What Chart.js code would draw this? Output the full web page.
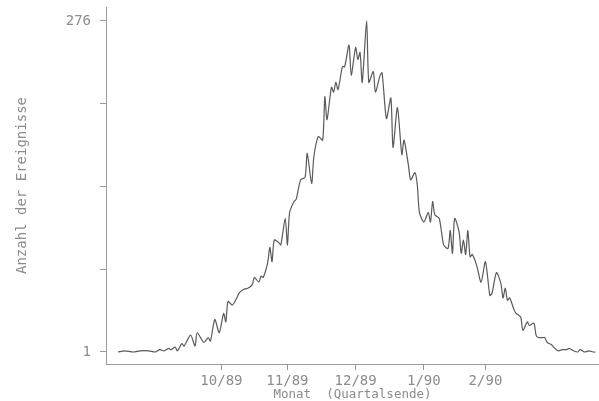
<!DOCTYPE html>
<html>
<head>
<meta charset="utf-8">
<script src="https://cdn.jsdelivr.net/npm/chart.js@4.4.1/dist/chart.umd.min.js"></script>
<style>
  html, body { margin: 0; padding: 0; background: #ffffff; }
  #wrap { width: 599px; height: 401px; }
</style>
</head>
<body>
<div id="wrap"><canvas id="c" width="599" height="401"></canvas></div>
<script>
const days = [0,3,7,10,14,17,19,21,22,23,24,26,27,29,30,33,35,36,39,41,42,44,46,48,49,50,52,54,55,57,59,61,62,64,65,66,68,69,70,71,73,74,76,77,78,80,81,83,85,86,88,89,91,93,94,95,97,98,99,100,102,103,105,106,108,109,110,111,113,114,116,117,119,120,122,124,125,127,129,130,132,133,135,136,137,139,141,142,143,144,146,148,150,151,152,153,155,156,157,158,159,160,161,163,165,167,169,170,172,174,175,176,177,178,180,181,183,184,186,187,189,190,191,193,194,195,197,198,200,202,204,205,207,209,210,212,214,216,217];
const counts = [1,2,1,2,2,1,3,2,3,4,3,5,2,8,6,15,6,17,9,13,10,28,17,33,26,43,40,46,50,53,54,57,63,59,64,63,75,88,76,94,92,90,112,90,117,126,128,144,146,166,141,163,180,177,213,194,221,217,225,219,238,238,256,231,254,244,250,225,276,225,234,217,230,233,195,212,171,204,165,177,156,144,150,140,117,109,117,109,126,115,112,90,87,102,83,112,101,83,94,82,102,80,82,73,59,76,48,50,67,58,46,54,44,46,36,33,30,19,26,23,25,15,13,13,13,9,7,5,2,3,3,4,2,1,3,1,2,1,1];

// Axis ticks
const yTickValues = [1, 69.75, 138.5, 207.25, 276];
const yTickLabels = ['1', '', '', '', '276'];
const xTickDays = [47, 77, 108, 139, 167];
const xTickLabels = ['10/89', '11/89', '12/89', '1/90', '2/90'];

const points = days.map((d, i) => ({ x: d, y: counts[i] }));
const ink = '#8c8c8c';
const fontFam = "'DejaVu Sans Mono', 'Liberation Mono', monospace";

new Chart(document.getElementById('c'), {
  type: 'line',
  data: {
    datasets: [{
      data: points,
      borderColor: '#5a5a5a',
      borderWidth: 1.2,
      pointRadius: 0,
      tension: 0.25,
      fill: false
    }]
  },
  options: {
    responsive: false,
    animation: false,
    devicePixelRatio: 1,
    layout: { padding: { top: 7, right: 0, bottom: 0, left: 0 }, autoPadding: false },
    plugins: { legend: { display: false }, tooltip: { enabled: false } },
    scales: {
      x: {
        type: 'linear',
        min: -5.45,
        max: 218.6,
        afterFit: (s) => { s.height = 37; s.paddingLeft = 0; s.paddingRight = 0; },
        afterBuildTicks: (s) => { s.ticks = xTickDays.map(v => ({ value: v })); },
        grid: { drawOnChartArea: false, drawTicks: true, tickLength: 6, color: '#9a9a9a', lineWidth: 1 },
        border: { display: true, color: '#9a9a9a', width: 1 },
        ticks: {
          autoSkip: false,
          maxRotation: 0,
          padding: 3,
          color: ink,
          font: { family: fontFam, size: 14 },
          callback: (v, i) => xTickLabels[i]
        },
        title: {
          display: true,
          text: 'Monat  (Quartalsende)',
          color: ink,
          font: { family: fontFam, size: 12.5, lineHeight: 1 },
          padding: { top: 0, bottom: 0 }
        }
      },
      y: {
        type: 'linear',
        min: -8.97,
        max: 287.6,
        afterFit: (s) => { s.width = 106; s.paddingTop = 0; s.paddingBottom = 0; },
        afterBuildTicks: (s) => { s.ticks = yTickValues.map(v => ({ value: v })); },
        grid: { drawOnChartArea: false, drawTicks: true, tickLength: 6, color: '#9a9a9a', lineWidth: 1 },
        border: { display: true, color: '#9a9a9a', width: 1 },
        ticks: {
          autoSkip: false,
          padding: 9,
          color: ink,
          font: { family: fontFam, size: 14, lineHeight: 1 },
          callback: (v, i) => yTickLabels[i]
        },
        title: {
          display: true,
          text: 'Anzahl der Ereignisse',
          color: ink,
          font: { family: fontFam, size: 14 },
          padding: { top: 14, bottom: 0 }
        }
      }
    }
  }
});
</script>
</body>
</html>
